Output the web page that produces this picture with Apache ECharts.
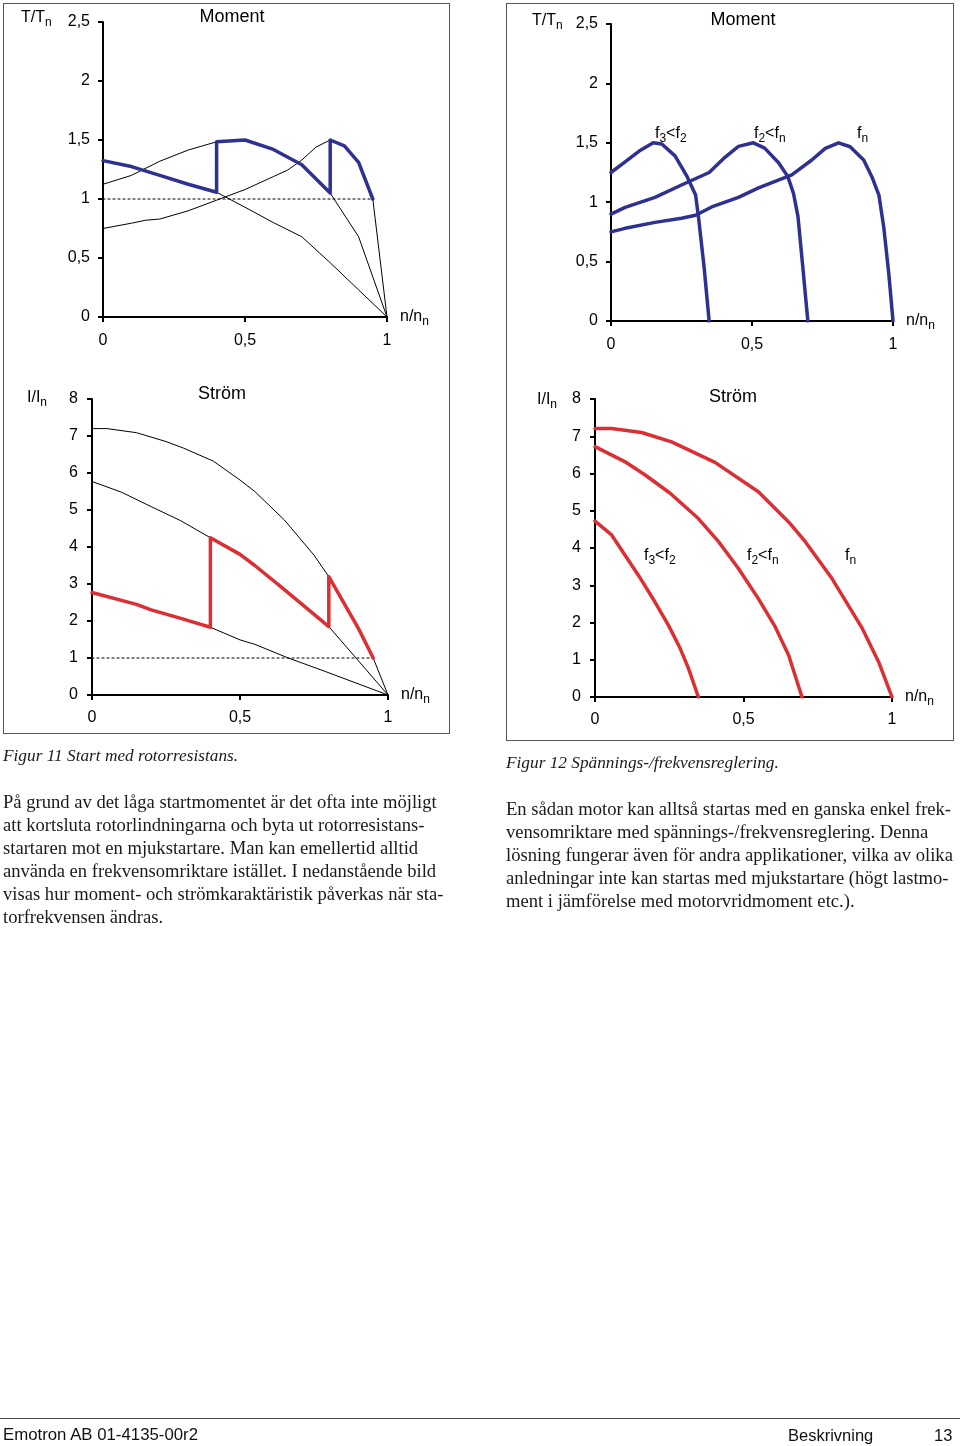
<!DOCTYPE html>
<html><head><meta charset="utf-8">
<script src="https://cdn.jsdelivr.net/npm/echarts/dist/echarts.min.js"></script>
<style>
html,body{margin:0;padding:0;background:#fff;}
#page{position:relative;width:960px;height:1446px;overflow:hidden;background:#fff;}
#chart{position:absolute;left:0;top:0;width:960px;height:1446px;}
.box{position:absolute;border:1.5px solid #555;box-sizing:border-box;}
.cap{position:absolute;font-family:'Liberation Serif',serif;font-style:italic;font-size:17.3px;line-height:20px;white-space:nowrap;color:#1a1a1a;}
.para{position:absolute;font-family:'Liberation Serif',serif;font-size:18.6px;line-height:23px;white-space:nowrap;color:#1a1a1a;}
.foot{position:absolute;font-family:'Liberation Sans',sans-serif;font-size:16.8px;line-height:20px;white-space:nowrap;color:#111;}
#rule{position:absolute;left:0;top:1418px;width:960px;height:0;border-top:1.5px solid #444;}
</style>
</head><body>
<div id="page">
  <div class="box" style="left:3px;top:3px;width:447px;height:731px;"></div>
  <div class="box" style="left:506px;top:3px;width:448px;height:738px;"></div>
  <div id="chart"></div>
  <div class="cap" style="left:3px;top:746px;">Figur 11 Start med rotorresistans.</div>
  <div class="para" style="left:3px;top:790px;">På grund av det låga startmomentet är det ofta inte möjligt<br>att kortsluta rotorlindningarna och byta ut rotorresistans-<br>startaren mot en mjukstartare. Man kan emellertid alltid<br>använda en frekvensomriktare istället. I nedanstående bild<br>visas hur moment- och strömkaraktäristik påverkas när sta-<br>torfrekvensen ändras.</div>
  <div class="cap" style="left:506px;top:753px;">Figur 12 Spännings-/frekvensreglering.</div>
  <div class="para" style="left:506px;top:797px;">En sådan motor kan alltså startas med en ganska enkel frek-<br>vensomriktare med spännings-/frekvensreglering. Denna<br>lösning fungerar även för andra applikationer, vilka av olika<br>anledningar inte kan startas med mjukstartare (högt lastmo-<br>ment i jämförelse med motorvridmoment etc.).</div>
  <div id="rule"></div>
  <div class="foot" style="left:3px;top:1425px;">Emotron AB 01-4135-00r2</div>
  <div class="foot" style="left:788px;top:1425px;font-size:16.5px;">Beskrivning</div>
  <div class="foot" style="left:934px;top:1425px;font-size:16.5px;">13</div>
</div>
<script>
// ---- Figure 11: rotor resistance start ----
// Moment (T/Tn vs n/nn)
var momA = [[0,1.125],[0.1,1.2],[0.2,1.32],[0.3,1.415],[0.4,1.485],[0.5,1.5],[0.6,1.42],[0.7,1.29],[0.8,1.05],[0.9,0.68],[1,0]];
var momB = [[0,0.75],[0.1,0.795],[0.15,0.82],[0.2,0.83],[0.3,0.9],[0.4,0.99],[0.5,1.08],[0.6,1.19],[0.65,1.245],[0.7,1.33],[0.75,1.44],[0.8,1.5],[0.85,1.45],[0.9,1.31],[0.95,1.0],[1,0]];
var momC = [[0,1.325],[0.1,1.275],[0.2,1.2],[0.3,1.125],[0.4,1.057],[0.5,0.93],[0.6,0.8],[0.7,0.68],[0.8,0.46],[0.9,0.23],[1,0]];
var momStart = [[0,1.325],[0.1,1.275],[0.2,1.2],[0.3,1.125],[0.4,1.057],[0.4,1.485],[0.5,1.5],[0.6,1.42],[0.7,1.29],[0.8,1.05],[0.8,1.5],[0.85,1.45],[0.9,1.31],[0.95,1.0]];
var momNominal = [[0,1],[0.95,1]];
// Ström (I/In vs n/nn)
var curA = [[0,7.2],[0.05,7.2],[0.15,7.09],[0.25,6.85],[0.31,6.67],[0.41,6.32],[0.5,5.81],[0.55,5.5],[0.65,4.73],[0.75,3.78],[0.8,3.2],[0.9,1.8],[0.95,1.0],[1,0]];
var curB = [[0,5.77],[0.1,5.48],[0.2,5.09],[0.3,4.71],[0.4,4.25],[0.5,3.8],[0.55,3.5],[0.65,2.85],[0.8,1.85],[1,0]];
var curC = [[0,2.77],[0.15,2.45],[0.2,2.3],[0.3,2.07],[0.4,1.83],[0.5,1.49],[0.55,1.37],[0.66,1.01],[0.79,0.63],[1,0]];
var curStart = [[0,2.77],[0.15,2.45],[0.2,2.3],[0.3,2.07],[0.4,1.83],[0.4,4.25],[0.5,3.8],[0.55,3.5],[0.65,2.85],[0.8,1.85],[0.8,3.2],[0.9,1.8],[0.95,1.0]];
var curNominal = [[0,1],[0.95,1]];

// ---- Figure 12: voltage/frequency control ----
var vfMomF3 = [[0,1.25],[0.05,1.34],[0.1,1.43],[0.15,1.5],[0.18,1.49],[0.227,1.39],[0.27,1.215],[0.3,1.06],[0.31,0.88],[0.33,0.457],[0.348,0]];
var vfMomF2 = [[0,0.9],[0.05,0.957],[0.156,1.04],[0.25,1.145],[0.348,1.25],[0.405,1.38],[0.452,1.47],[0.505,1.5],[0.545,1.455],[0.595,1.33],[0.627,1.215],[0.647,1.075],[0.663,0.88],[0.68,0.457],[0.698,0]];
var vfMomFn = [[0,0.75],[0.05,0.78],[0.156,0.83],[0.25,0.865],[0.3,0.89],[0.357,0.96],[0.452,1.04],[0.523,1.12],[0.641,1.23],[0.712,1.355],[0.76,1.453],[0.807,1.5],[0.848,1.467],[0.896,1.355],[0.925,1.215],[0.95,1.06],[0.967,0.794],[0.985,0.4],[1,0]];
var vfCurFn = [[0,7.21],[0.056,7.21],[0.157,7.1],[0.258,6.85],[0.404,6.3],[0.55,5.51],[0.652,4.7],[0.708,4.17],[0.798,3.18],[0.9,1.84],[0.955,0.94],[1,0]];
var vfCurF2 = [[0,6.72],[0.1,6.32],[0.169,5.96],[0.253,5.47],[0.348,4.79],[0.416,4.17],[0.483,3.45],[0.55,2.64],[0.607,1.88],[0.652,1.12],[0.697,0]];
var vfCurF3 = [[0,4.72],[0.056,4.35],[0.146,3.27],[0.202,2.55],[0.247,1.93],[0.287,1.3],[0.315,0.76],[0.348,0]];

var momentTicks = {min:0, max:2.5, interval:0.5};
var currentTicks = {min:0, max:8, interval:1};
var speedTicks = {min:0, max:1, interval:0.5};

var BLUE = '#2e3192', RED = '#dc2f34', INK = '#000';
var SANS = 'Liberation Sans, Arial, sans-serif';

var chart = echarts.init(document.getElementById('chart'), null, {renderer:'canvas'});
function fmt(v){ return String(v).replace('.', ','); }
var subRich = {
  a:{fontSize:16, fontFamily:SANS, color:INK},
  s:{fontSize:12, fontFamily:SANS, color:INK, padding:[10,0,0,0]}
};
function xAx(gi, xMargin){
  return {gridIndex:gi, type:'value', min:speedTicks.min, max:speedTicks.max, interval:speedTicks.interval,
    axisLine:{show:true, onZero:false, lineStyle:{color:INK, width:2}},
    axisTick:{show:true, length:5, lineStyle:{color:INK, width:2}},
    axisLabel:{formatter:fmt, fontSize:16, fontFamily:SANS, color:INK, margin:xMargin},
    splitLine:{show:false},
    name:'{a|n/n}{s|n}', nameLocation:'end', nameGap:13,
    nameTextStyle:{rich:subRich, align:'left', verticalAlign:'middle'}};
}
function yAx(gi, t, yMargin){
  return {gridIndex:gi, type:'value', min:t.min, max:t.max, interval:t.interval,
    axisLine:{show:true, onZero:false, lineStyle:{color:INK, width:2}},
    axisTick:{show:true, length:5, lineStyle:{color:INK, width:2}},
    axisLabel:{formatter:fmt, fontSize:16, fontFamily:SANS, color:INK, margin:yMargin},
    splitLine:{show:false}};
}
function ln(gi, data, color, width, type, z){
  return {type:'line', xAxisIndex:gi, yAxisIndex:gi, data:data, symbol:'none', silent:true, z:z||2,
    lineStyle:{color:color, width:width, type:type||'solid', join:'round', cap:'round'}};
}
function txt(x, y, text, size, align){
  return {type:'text', x:x, y:y, silent:true, style:{text:text, font:(size||18)+'px '+SANS, fill:INK, align:align||'left', verticalAlign:'middle'}};
}
function rtxt(x, y, text, size){
  var r = {a:{fontSize:size||16, fontFamily:SANS, color:INK}, s:{fontSize:12, fontFamily:SANS, color:INK, padding:[10,0,0,0]}};
  return {type:'text', x:x, y:y, silent:true, style:{text:text, rich:r, align:'left', verticalAlign:'middle'}};
}

var option = {
  animation:false,
  grid:[
    {left:103, top:22, width:284, height:295},
    {left:611, top:24, width:282, height:297},
    {left:92, top:399, width:296, height:296},
    {left:595, top:399, width:297, height:298}
  ],
  xAxis:[xAx(0,16), xAx(1,16), xAx(2,15), xAx(3,15)],
  yAxis:[yAx(0,momentTicks,13), yAx(1,momentTicks,13), yAx(2,currentTicks,14), yAx(3,currentTicks,14)],
  series:[
    ln(0, momA, INK, 1), ln(0, momB, INK, 1), ln(0, momC, INK, 1),
    ln(0, momNominal, INK, 1.2, [2,3]),
    ln(0, momStart, BLUE, 3.5, 'solid', 5),
    ln(1, vfMomF3, BLUE, 3.5), ln(1, vfMomF2, BLUE, 3.5), ln(1, vfMomFn, BLUE, 3.5),
    ln(2, curA, INK, 1), ln(2, curB, INK, 1), ln(2, curC, INK, 1),
    ln(2, curNominal, INK, 1.2, [2,3]),
    ln(2, curStart, RED, 3.5, 'solid', 5),
    ln(3, vfCurFn, RED, 3.5), ln(3, vfCurF2, RED, 3.5), ln(3, vfCurF3, RED, 3.5)
  ],
  graphic:[
    txt(232, 17, 'Moment', 18, 'center'),
    txt(743, 20, 'Moment', 18, 'center'),
    txt(222, 394, 'Ström', 18, 'center'),
    txt(733, 397, 'Ström', 18, 'center'),
    rtxt(21, 18, '{a|T/T}{s|n}'),
    rtxt(532, 21, '{a|T/T}{s|n}'),
    rtxt(27, 398, '{a|I/I}{s|n}'),
    rtxt(537, 400, '{a|I/I}{s|n}'),
    rtxt(655, 134, '{a|f}{s|3}{a|<f}{s|2}'),
    rtxt(754, 134, '{a|f}{s|2}{a|<f}{s|n}'),
    rtxt(857, 134, '{a|f}{s|n}'),
    rtxt(644, 556, '{a|f}{s|3}{a|<f}{s|2}'),
    rtxt(747, 556, '{a|f}{s|2}{a|<f}{s|n}'),
    rtxt(845, 556, '{a|f}{s|n}')
  ]
};
chart.setOption(option);
</script>
</body></html>
